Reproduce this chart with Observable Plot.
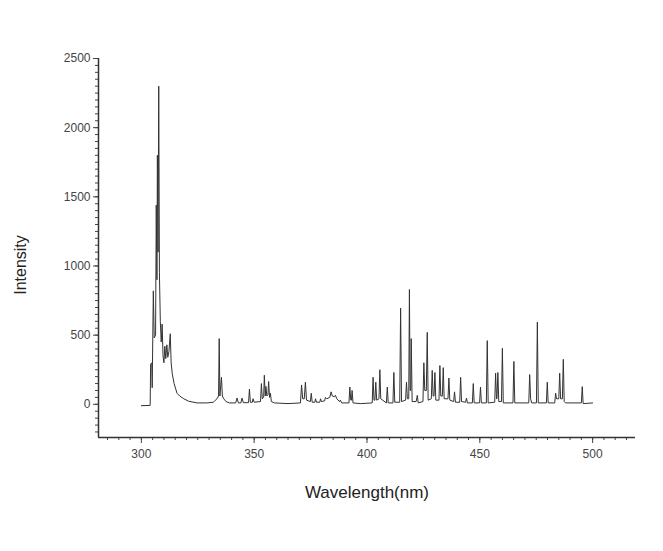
<!DOCTYPE html>
<html>
<head>
<meta charset="utf-8">
<script src="https://cdn.jsdelivr.net/npm/d3@7"></script>
<script src="https://cdn.jsdelivr.net/npm/@observablehq/plot@0.6"></script>
<style>
  html, body { margin: 0; padding: 0; background: #fff; }
</style>
</head>
<body>
<div id="chart"></div>
<script>
// Emission spectrum (wavelength in nm, intensity in a.u.)
const wavelength = [
  300, 303.9, 304.1, 304.6, 304.8, 305.3, 305.7, 306.3, 306.6, 306.9, 307.1, 307.4, 307.7, 308.0, 308.4, 308.8,
  309.2, 309.6, 310.0, 310.4, 310.8, 311.3, 311.7, 312.2, 312.8, 313.2, 313.7, 314.5, 315.8, 317.0, 318.8, 321,
  324.7, 329, 331.9, 333.5, 334.2, 334.5, 334.8, 335.5, 335.9, 336.5, 337.5, 339,
  341.8, 342.4, 343, 344.1, 344.6, 345.2, 347.5, 347.9, 348.3, 349.2, 349.5, 350, 352.8, 353.2, 353.6, 354.2,
  354.5, 354.9, 355.2, 355.6, 356.1, 356.4, 356.8, 357.2, 357.6, 359, 365, 370.5, 371.0, 371.5, 372.2, 372.7,
  373.2, 374.9, 375.3, 375.7, 376.9, 377.2, 377.6, 379.1, 379.4, 379.8, 381.2, 381.6, 382.2, 383.5, 384.1, 384.6,
  385.5, 386.0, 386.6, 387.8, 388.2, 388.8, 392.0, 392.4, 392.8, 393.1, 393.4, 393.8, 397, 402.3, 402.7, 403.1,
  403.5, 403.9, 404.3, 405.3, 405.7, 406.1, 408.6, 409.0, 409.4, 411.5, 411.9, 412.3, 414.5, 414.9, 415.3, 417.1,
  417.5, 417.9, 418.5, 418.8, 419.1, 419.4, 419.6, 420.0, 421.8, 422.3, 422.7, 424.8, 425.2, 425.6, 426.3, 426.7,
  427.1, 428.5, 428.9, 429.3, 429.7, 430.1, 430.5, 431.9, 432.3, 432.7, 433.4, 433.8, 434.2, 435.9, 436.3, 436.7,
  438.4, 438.8, 439.2, 441.1, 441.5, 441.9, 443.7, 444.1, 444.5, 446.7, 447.1, 447.5, 449.9, 450.3, 450.7, 452.9,
  453.3, 453.7, 456.6, 457.0, 457.4, 457.6, 458.0, 458.4, 459.6, 460.0, 460.4, 464.7, 465.1, 465.5, 471.7, 472.1,
  472.5, 473, 475.1, 475.5, 475.9, 479.5, 479.9, 480.3, 483.2, 483.6, 484.0, 485.0, 485.4, 485.8, 486.6, 487.0,
  487.4, 488, 495.0, 495.4, 495.8, 500
];
const intensity = [
  -10, -8, 290, 300, 120, 820, 480, 500, 1440, 900, 1800, 1100, 2300, 950, 600, 450,
  580, 350, 300, 420, 330, 430, 340, 380, 510, 300, 220, 150, 80, 60, 40, 22,
  10, 10, 15, 40, 60, 475, 60, 195, 60, 40, 20, 10,
  10, 45, 10, 10, 45, 12, 12, 110, 15, 15, 40, 15, 20, 150, 40, 50,
  210, 60, 130, 60, 70, 165, 50, 80, 20, 10, 5, 10, 140, 40, 40, 160,
  30, 20, 80, 15, 15, 40, 15, 15, 40, 20, 25, 50, 40, 50, 90, 60,
  55, 65, 40, 20, 30, 10, 10, 125, 30, 30, 100, 10, 5, 10, 195, 30,
  30, 160, 30, 40, 250, 40, 10, 125, 10, 10, 230, 15, 15, 695, 20, 30,
  160, 40, 40, 830, 100, 100, 475, 20, 20, 65, 10, 20, 300, 100, 100, 520,
  30, 40, 245, 60, 60, 230, 30, 30, 280, 60, 60, 265, 40, 40, 190, 30,
  20, 90, 15, 15, 195, 20, 15, 45, 10, 10, 150, 10, 10, 125, 10, 10,
  460, 10, 15, 225, 40, 40, 230, 20, 20, 405, 10, 10, 310, 10, 10, 215,
  40, 10, 10, 595, 10, 10, 160, 10, 10, 80, 40, 40, 225, 40, 40, 325,
  20, 10, 10, 128, 5, 10
];

const xTicks = [300, 350, 400, 450, 500];
const xMinorTicks = d3.range(285, 520, 5);
const yTicks = [0, 500, 1000, 1500, 2000, 2500];
const yMinorTicks = d3.range(-200, 2501, 50);
const xLabel = "Wavelength(nm)";
const yLabel = "Intensity";

const spectrum = wavelength.map((w, i) => ({w, v: intensity[i]}));
const plain = d => String(d);

const chart = Plot.plot({
  width: 663,
  height: 551,
  marginLeft: 98,
  marginRight: 28,
  marginTop: 58,
  marginBottom: 114,
  x: {domain: [281, 519]},
  y: {domain: [-240, 2500]},
  style: {fontFamily: "'Liberation Sans', Arial, sans-serif", fontSize: "12px", color: "#333", background: "#fff"},
  marks: [
    Plot.axisY(yMinorTicks, {tickSize: 3, tickFormat: () => "", label: null, stroke: "#444"}),
    Plot.axisY(yTicks, {tickSize: 5, tickPadding: 3, tickFormat: plain, label: null, stroke: "#444", fill: "#444", fontSize: 12}),
    Plot.axisX(xMinorTicks, {tickSize: 3, tickFormat: () => "", label: null, stroke: "#444"}),
    Plot.axisX(xTicks, {tickSize: 6, tickPadding: 6, tickFormat: plain, label: null, stroke: "#444", fill: "#444", fontSize: 12}),
    Plot.ruleX([281], {stroke: "#333", strokeWidth: 1.5}),
    Plot.ruleY([-240], {stroke: "#333", strokeWidth: 1.5}),
    Plot.line(spectrum, {x: "w", y: "v", stroke: "#333", strokeWidth: 1, curve: "linear"}),
    Plot.text([yLabel], {frameAnchor: "left", textAnchor: "middle", rotate: -90, dx: -78, dy: 17, fontSize: 16, fill: "#222"}),
    Plot.text([xLabel], {frameAnchor: "bottom", lineAnchor: "bottom", dy: 60, fontSize: 17, fill: "#222"})
  ]
});
document.getElementById("chart").appendChild(chart);
</script>
</body>
</html>
